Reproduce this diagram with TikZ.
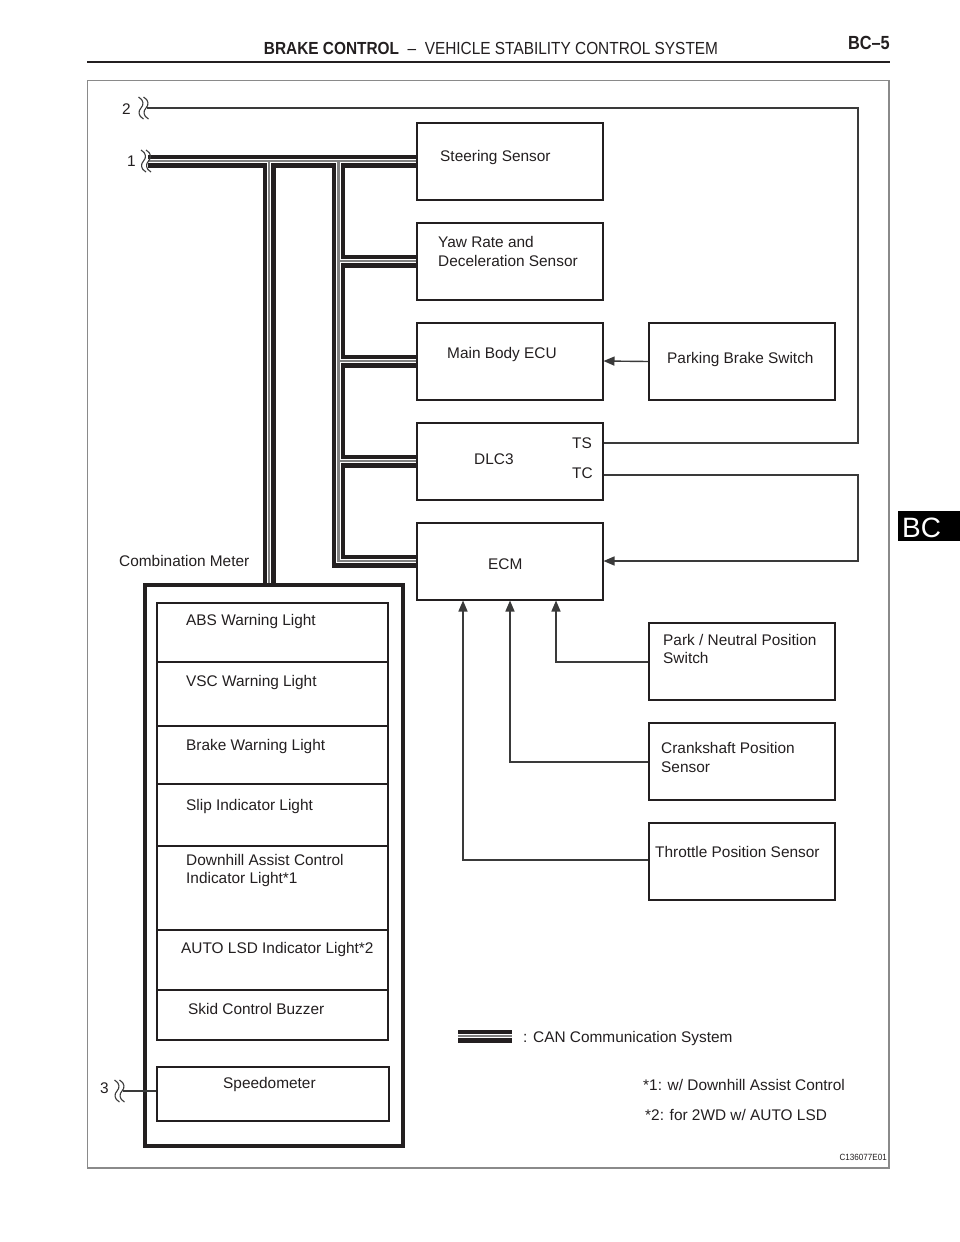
\documentclass[tikz,border=0pt]{standalone}
\usepackage{fontspec}
\setmainfont{Liberation Sans}
\usetikzlibrary{arrows.meta}
\definecolor{ink}{HTML}{231F20}
\definecolor{wirec}{HTML}{3A3A3A}
\definecolor{framec}{HTML}{8A8A8A}
\begin{document}
\begin{tikzpicture}[x=1pt,y=-1pt,
  box/.style={draw=ink,line width=2pt,rectangle,inner sep=0pt,minimum width=186pt,minimum height=77pt},
  txt/.style={inner sep=0pt,anchor=base west,text=ink,font=\fontsize{15.4}{18}\selectfont},
  wire/.style={draw=wirec,line width=1.4pt},
  arr/.style={wire,-{Triangle[length=11pt,width=9pt]}},
  busA/.style={line width=13pt,draw=ink},
  busB/.style={line width=4.6pt,draw=white},
  busC/.style={line width=2.4pt,draw=black!50},
  brkline/.style={draw=wirec,line width=1.1pt},
  brk/.pic={
    \draw[brkline] (-2.5,-11) .. controls (3,-8) and (3,-3) .. (0,0) .. controls (-3,3) and (-3,8) .. (2.5,11);
    \draw[brkline] (2.5,-11) .. controls (8,-8) and (8,-3) .. (5,0) .. controls (2,3) and (2,8) .. (7.5,11);
  }
]
\useasboundingbox (0,0) rectangle (960,1242);
\fill[white] (0,0) rectangle (960,1242);

% header
\node[inner sep=0pt,anchor=base,text=ink] (hdr) at (491,54)
  {\fontsize{17.5}{20}\selectfont\scalebox{0.88}[1]{\textbf{BRAKE CONTROL}\ \ –\ \ VEHICLE STABILITY CONTROL SYSTEM}};
\node[inner sep=0pt,anchor=base east,text=ink] (pg) at (890,49)
  {\fontsize{19}{22}\selectfont\scalebox{0.86}[1]{\textbf{BC–5}}};
\draw[line width=2.5pt,ink] (87,62) -- (890,62);
\draw[framec,line width=1.5pt] (87.5,80.5) rectangle (889,1168);

% side tab
\fill[black] (898,511) rectangle (960,541);
\node[inner sep=0pt,anchor=base west,text=white,font=\fontsize{28}{30}\selectfont] (tab) at (902,537.5) {BC};

% right column boxes
\node[box] (steer) at (509.5,161) {};
\node[box] (yaw)   at (509.5,261) {};
\node[box] (mbe)   at (509.5,361) {};
\node[box] (dlc)   at (509.5,461) {};
\node[box] (ecm)   at (509.5,561) {};
\node[box] (pbs)   at (742,361.5) {};
\node[box] (pns)   at (742,661.5) {};
\node[box] (cps)   at (742,761.5) {};
\node[box] (tps)   at (742,861) {};

\node[txt] (tsteer) at (440,161) {Steering Sensor};
\node[txt] (tyaw1) at (438,247) {Yaw Rate and};
\node[txt] (tyaw2) at (438,266) {Deceleration Sensor};
\node[txt] (tmbe) at (447,358) {Main Body ECU};
\node[txt] (tpbs) at (667,363) {Parking Brake Switch};
\node[txt] (tdlc) at (474,464) {DLC3};
\node[txt] (tts) at (572,448) {TS};
\node[txt] (ttc) at (572,478) {TC};
\node[txt] (tecm) at (488,569) {ECM};
\node[txt] (tpns1) at (663,645) {Park / Neutral Position};
\node[txt] (tpns2) at (663,663) {Switch};
\node[txt] (tcps1) at (661,753) {Crankshaft Position};
\node[txt] (tcps2) at (661,772) {Sensor};
\node[txt] (ttps) at (655,857) {Throttle Position Sensor};

% combination meter
\node[draw=ink,line width=4pt,inner sep=0pt,minimum width=258pt,minimum height=561pt] (cm) at (274,865.5) {};
\node[txt] (tcm) at (119,566) {Combination Meter};
\node[draw=ink,line width=2pt,inner sep=0pt,minimum width=231pt,minimum height=437pt] (lights) at (272.5,821.5) {};
\foreach \yy in {662,726,784,846,930,990} {\draw[ink,line width=2pt] (157,\yy) -- (388,\yy);}
\node[draw=ink,line width=2pt,inner sep=0pt,minimum width=232pt,minimum height=54pt] (speedo) at (272.5,1093.5) {};

\node[txt] (tabs) at (186,625) {ABS Warning Light};
\node[txt] (tvsc) at (186,686) {VSC Warning Light};
\node[txt] (tbwl) at (186,750) {Brake Warning Light};
\node[txt] (tsil) at (186,810) {Slip Indicator Light};
\node[txt] (tdac1) at (186,865) {Downhill Assist Control};
\node[txt] (tdac2) at (186,883) {Indicator Light*1};
\node[txt] (tlsd) at (181,953) {AUTO LSD Indicator Light*2};
\node[txt] (tskid) at (188,1014) {Skid Control Buzzer};
\node[txt] (tspeedo) at (223,1088) {Speedometer};

% CAN bus
\coordinate (busstart) at (148,161);
\coordinate (j1) at (269,161);
\coordinate (j2) at (338.5,161);
\coordinate (leg1) at (458,1036);
\coordinate (leg2) at (512,1036);
\foreach \s in {busA,busB,busC} {
  \draw[\s] (busstart) -- (steer.west);
  \draw[\s] (j1) -- (269,0 |- cm.north);
  \draw[\s] (j2) |- (ecm.west);
  \draw[\s] (338.5,0 |- yaw.west) -- (yaw.west);
  \draw[\s] (338.5,0 |- mbe.west) -- (mbe.west);
  \draw[\s] (338.5,0 |- dlc.west) -- (dlc.west);
  \draw[\s] (leg1) -- (leg2);
}

% break marks and labels
\pic at (141,108) {brk};
\pic at (143.5,161) {brk};
\pic at (117,1091) {brk};
\node[txt] (l2) at (122,114) {2};
\node[txt] (l1) at (127,166) {1};
\node[txt] (l3) at (100,1093) {3};

% wires
\coordinate (w2) at (147,108);
\coordinate (tsp) at (603.5,443);
\coordinate (tcp) at (603.5,475);
\coordinate (w3) at (123,1091);
\draw[wire] (w2) -- (858,108) -- (858,443) -- (tsp);
\draw[arr] (tcp) -- (858,475) -- (858,561) -- (ecm.east);
\draw[arr] (pbs.west) -- (mbe.east);
\draw[arr] (pns.west |- 0,662) -| (556,0 |- ecm.south);
\draw[arr] (cps.west |- 0,762) -| (510,0 |- ecm.south);
\draw[arr] (tps.west |- 0,860) -| (463,0 |- ecm.south);
\draw[wire] (w3) -- (speedo.west |- w3);

% legend and notes
\node[txt] (tleg) at (523,1042) {: CAN Communication System};
\node[txt] (tn1) at (643,1090) {*1: w/ Downhill Assist Control};
\node[txt] (tn2) at (645,1120) {*2: for 2WD w/ AUTO LSD};
\node[inner sep=0pt,anchor=base east,text=ink,font=\fontsize{9}{10}\selectfont] (code) at (887,1160) {\scalebox{0.9}[1]{C136077E01}};
\end{tikzpicture}
\end{document}
